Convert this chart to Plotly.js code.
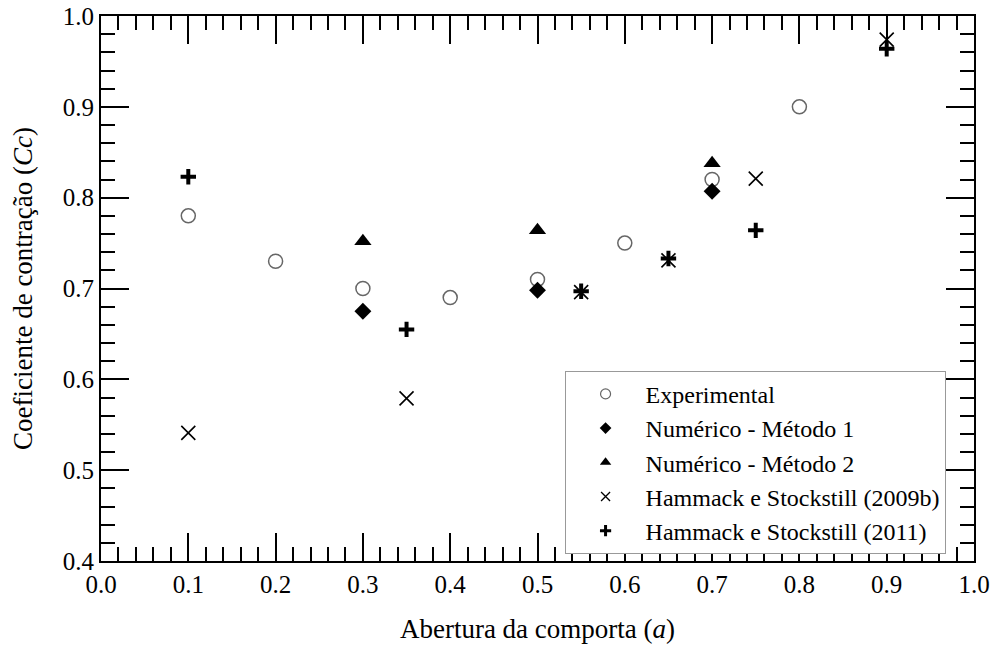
<!DOCTYPE html>
<html>
<head>
<meta charset="utf-8">
<script src="https://cdn.plot.ly/plotly-3.0.1.min.js"></script>
<style>html,body{margin:0;padding:0;background:#fff;}#chart{width:996px;height:650px;}</style>
</head>
<body>
<div id="chart"></div>
<script>
// Data
const expX = [0.1, 0.2, 0.3, 0.4, 0.5, 0.6, 0.7, 0.8];
const expY = [0.78, 0.73, 0.70, 0.69, 0.71, 0.75, 0.82, 0.90];

const met1X = [0.3, 0.5, 0.7];
const met1Y = [0.675, 0.698, 0.807];

const met2X = [0.3, 0.5, 0.7];
const met2Y = [0.752, 0.764, 0.838];

const hs2009X = [0.1, 0.35, 0.55, 0.65, 0.75, 0.9];
const hs2009Y = [0.541, 0.579, 0.696, 0.731, 0.821, 0.974];

const hs2011X = [0.1, 0.35, 0.55, 0.65, 0.75, 0.9];
const hs2011Y = [0.823, 0.655, 0.697, 0.733, 0.764, 0.964];

const seriesNames = [
  'Experimental',
  'Numérico - Método 1',
  'Numérico - Método 2',
  'Hammack e Stockstill (2009b)',
  'Hammack e Stockstill (2011)'
];

const font = "'Liberation Serif', 'Times New Roman', Times, serif";

const markers = [
  {symbol: 'circle-open', size: 14, color: '#666', line: {width: 1.5, color: '#666'}},
  {symbol: 'diamond', size: 13, color: '#000'},
  {symbol: 'triangle-up', size: 15, color: '#000'},
  {symbol: 'x-thin-open', size: 14, color: '#000', line: {width: 1.6, color: '#000'}},
  {symbol: 'cross-thin-open', size: 11, color: '#000', line: {width: 4, color: '#000'}}
];
const legendMarkers = [
  {symbol: 'circle-open', size: 10, color: '#666', line: {width: 1.2, color: '#666'}},
  {symbol: 'diamond', size: 9, color: '#000'},
  {symbol: 'triangle-up', size: 10, color: '#000'},
  {symbol: 'x-thin-open', size: 9, color: '#000', line: {width: 1.3, color: '#000'}},
  {symbol: 'cross-thin-open', size: 8, color: '#000', line: {width: 3, color: '#000'}}
];
const xs = [expX, met1X, met2X, hs2009X, hs2011X];
const ys = [expY, met1Y, met2Y, hs2009Y, hs2011Y];

const traces = [];
for (let i = 0; i < 5; i++) {
  traces.push({x: xs[i], y: ys[i], name: seriesNames[i], mode: 'markers', type: 'scatter',
    showlegend: false, marker: markers[i]});
}
for (let i = 0; i < 5; i++) {
  traces.push({x: [null], y: [null], name: seriesNames[i], mode: 'markers', type: 'scatter',
    showlegend: true, marker: legendMarkers[i]});
}

const axisCommon = {
  showgrid: false, zeroline: false,
  showline: true, linecolor: '#000', linewidth: 2,
  mirror: 'allticks',
  ticks: 'inside', ticklen: 28, tickwidth: 2, tickcolor: '#000',
  tickfont: {family: font, size: 25, color: '#000'},
  minor: {ticks: 'inside', ticklen: 14, tickwidth: 2, tickcolor: '#000', dtick: 0.02, showgrid: false}
};

const layout = {
  width: 996, height: 650,
  margin: {l: 101, r: 22, t: 16, b: 89},
  paper_bgcolor: '#fff', plot_bgcolor: '#fff',
  font: {family: font, color: '#000'},
  showlegend: true,
  xaxis: Object.assign({}, axisCommon, {
    range: [0, 1], tick0: 0, dtick: 0.1, tickformat: '.1f',
    title: {text: 'Abertura da comporta (<i>a</i>)', font: {family: font, size: 27, color: '#000'}, standoff: 22}
  }),
  yaxis: Object.assign({}, axisCommon, {
    range: [0.4, 1.0], tick0: 0.4, dtick: 0.1, tickformat: '.1f',
    title: {text: 'Coeficiente de contração (<i>Cc</i>)', font: {family: font, size: 27, color: '#000'}, standoff: 22}
  }),
  legend: {
    x: 0.531, y: 0.349, xanchor: 'left', yanchor: 'top',
    bgcolor: '#fff', bordercolor: '#999', borderwidth: 1,
    font: {family: font, size: 24, color: '#000'},
    itemwidth: 70, tracegroupgap: 0
  }
};

Plotly.newPlot('chart', traces, layout, {displayModeBar: false, staticPlot: true});
</script>
</body>
</html>
